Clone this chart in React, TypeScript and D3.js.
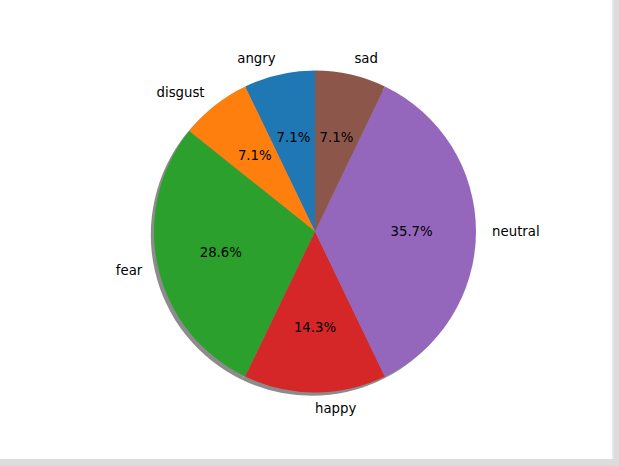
import * as d3 from "d3";

const labels = ["angry", "disgust", "fear", "happy", "neutral", "sad"];
const counts = [1, 1, 4, 2, 5, 1];
const colors = ["#1f77b4", "#ff7f0e", "#2ca02c", "#d62728", "#9467bd", "#8c564b"];

const W = 619;
const H = 466;
const cx = 315;
const cy = 231.5;
const r = 161;

type Slice = { label: string; value: number; color: string };

export default function App() {
  const items: Slice[] = labels.map((label, i) => ({ label, value: counts[i], color: colors[i] }));
  const total = d3.sum(counts);

  // matplotlib: startangle 90, counterclockwise
  const pie = d3
    .pie<Slice>()
    .sort(null)
    .value((d) => d.value)
    .startAngle(0)
    .endAngle(-2 * Math.PI);
  const arcs = pie(items);
  const arc = d3.arc<d3.PieArcDatum<Slice>>().innerRadius(0).outerRadius(r);

  const pos = (a: number, k: number) => [Math.sin(a) * r * k, -Math.cos(a) * r * k];

  return (
    <svg
      width={W}
      height={H}
      style={{ position: "absolute", left: 0, top: 0, background: "#fff" }}
      fontFamily="DejaVu Sans"
    >
      <rect x={0} y={0} width={W} height={H} fill="#fff" />
      <rect x={612} y={0} width={7} height={H} fill="#dcdcdc" />
      <rect x={0} y={459} width={W} height={7} fill="#dcdcdc" />
      <rect x={612} y={0} width={1.5} height={459} fill="#ececec" />
      <g transform={`translate(${cx - 0.02 * r},${cy + 0.02 * r})`}>
        {arcs.map((s) => (
          <path key={s.data.label} d={arc(s) ?? undefined} fill="#8c8c8c" />
        ))}
      </g>
      <g transform={`translate(${cx},${cy})`}>
        {arcs.map((s) => (
          <path key={s.data.label} d={arc(s) ?? undefined} fill={s.data.color} />
        ))}
        {arcs.map((s) => {
          const mid = (s.startAngle + s.endAngle) / 2;
          const [lx, ly] = pos(mid, 1.1);
          const [px, py] = pos(mid, 0.6);
          return (
            <g key={s.data.label}>
              <text
                x={lx}
                y={ly}
                dy="0.32em"
                fontSize={13.3}
                textAnchor={lx < -0.01 ? "end" : "start"}
                fill="#000"
              >
                {s.data.label}
              </text>
              <text x={px} y={py} dy="0.32em" fontSize={13.3} textAnchor="middle" fill="#000">
                {((s.data.value / total) * 100).toFixed(1)}%
              </text>
            </g>
          );
        })}
      </g>
    </svg>
  );
}
